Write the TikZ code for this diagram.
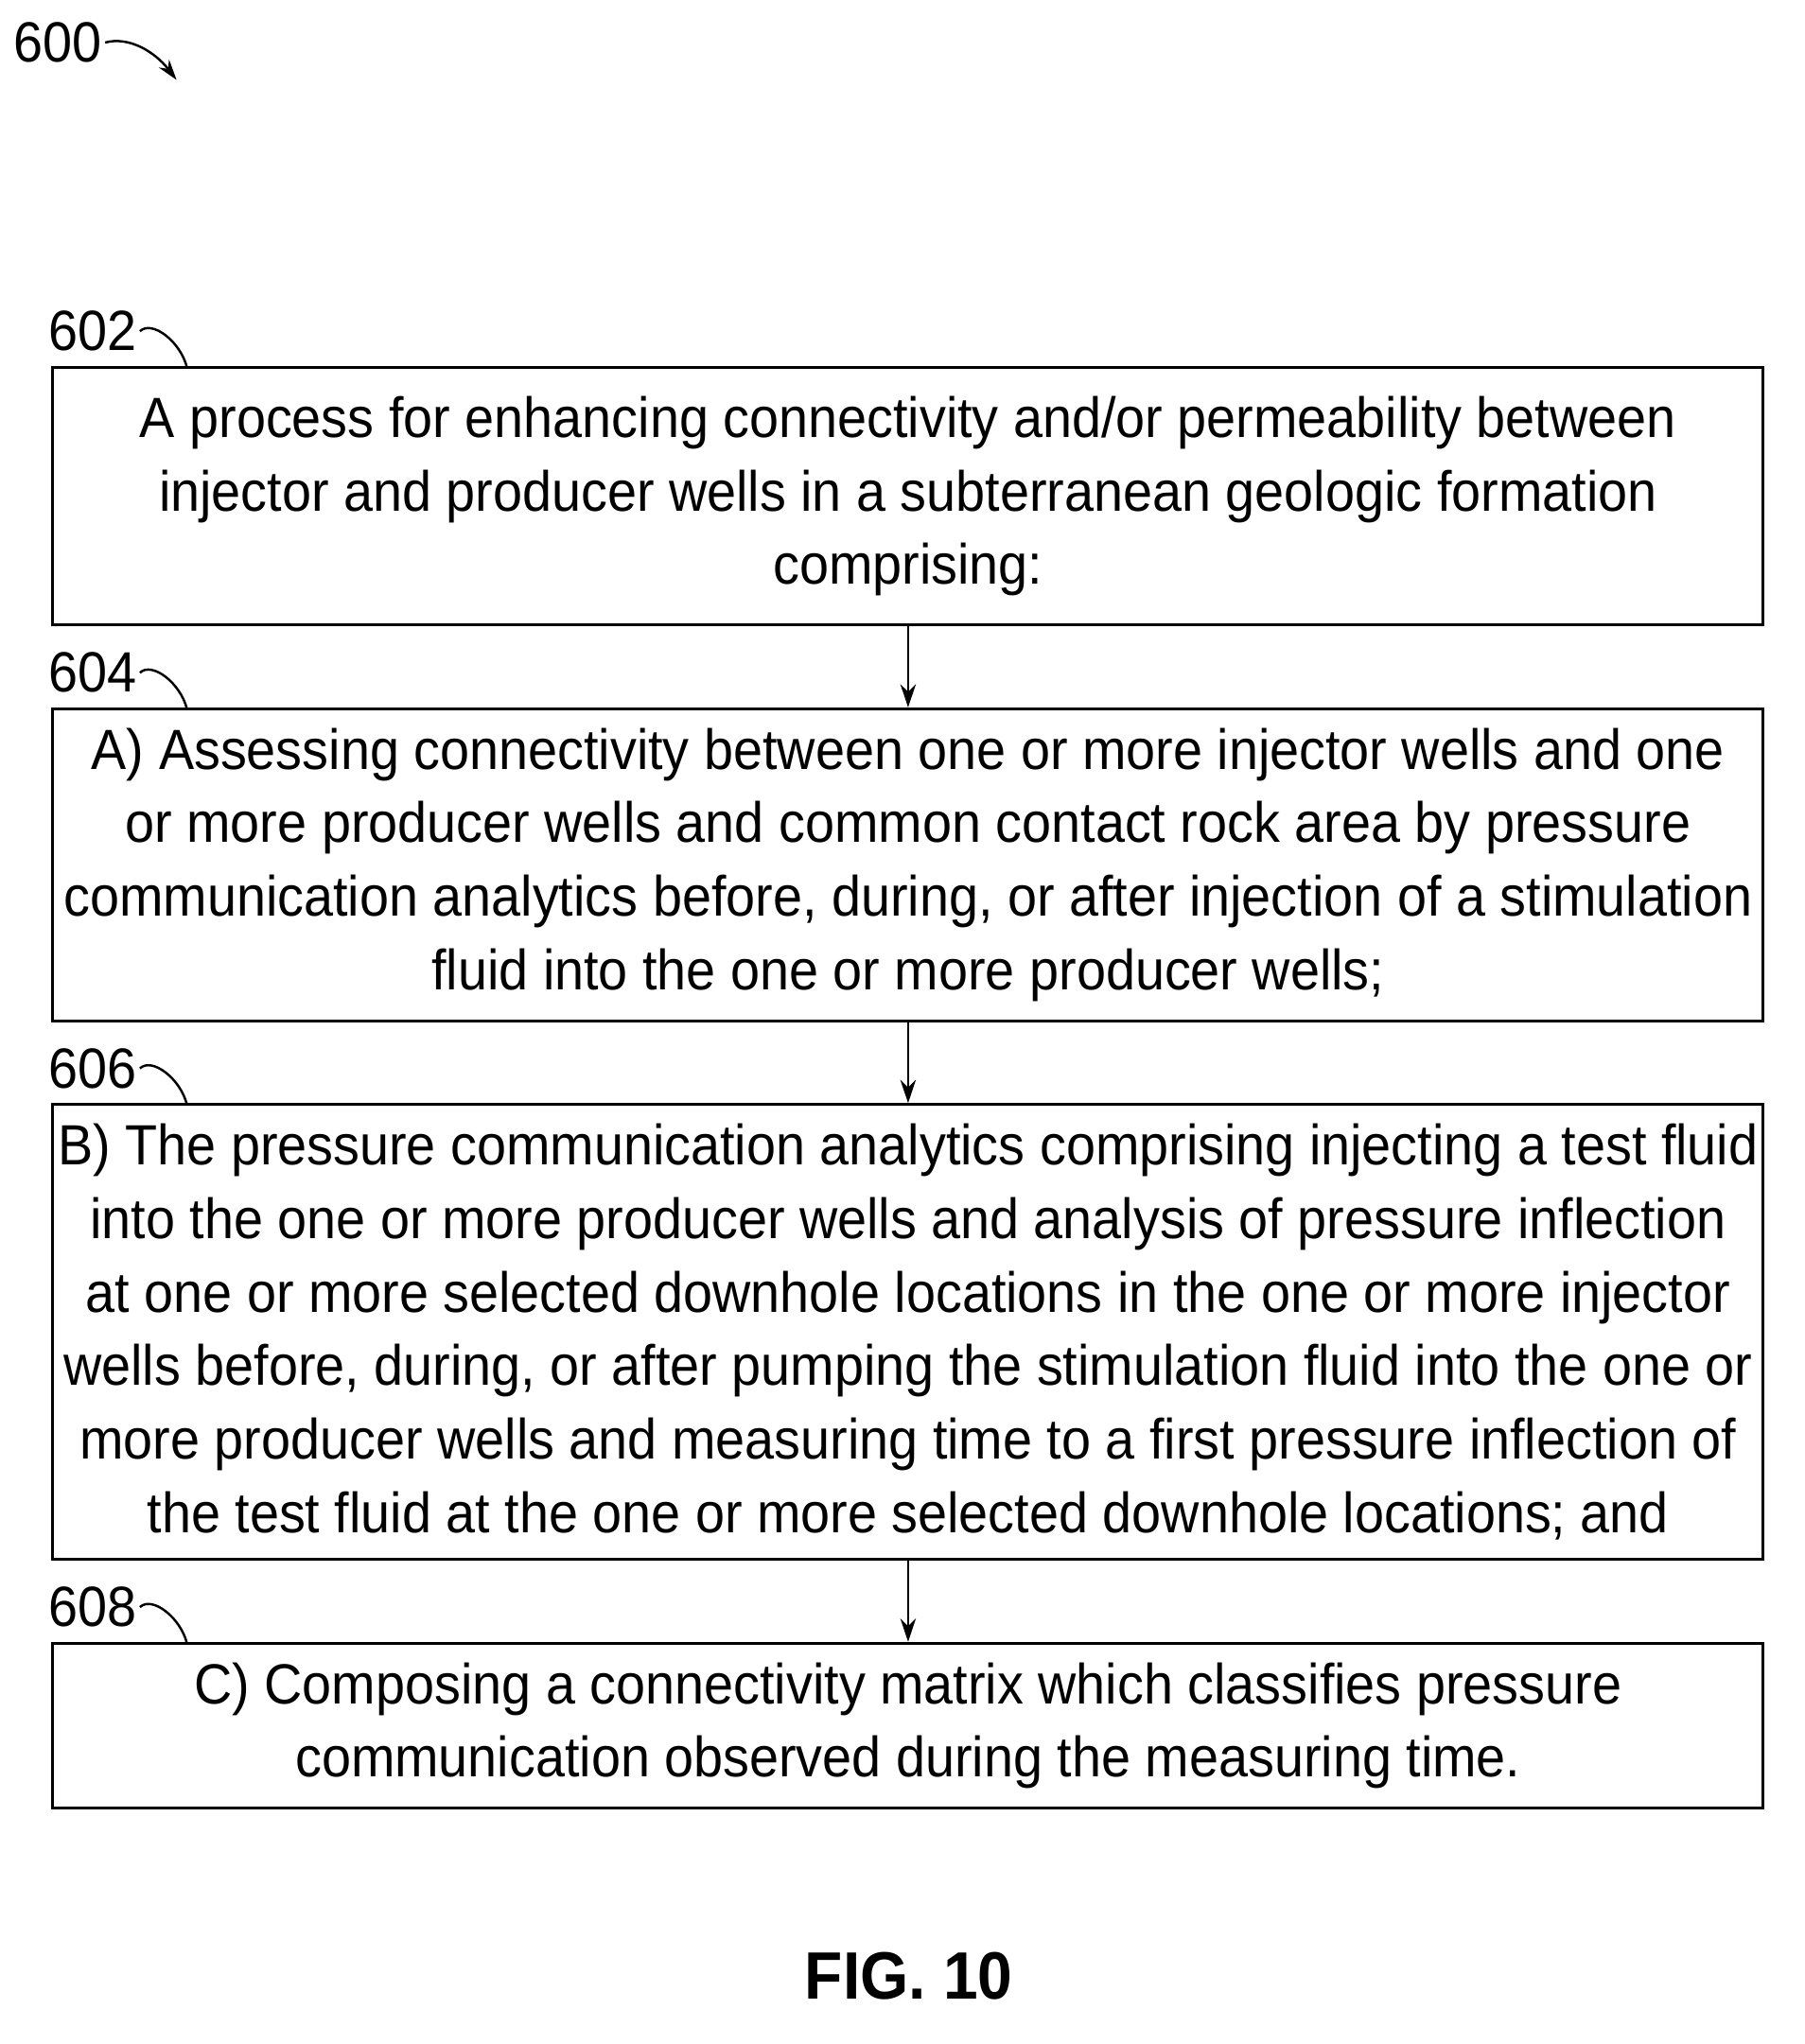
\documentclass[tikz,border=0pt]{standalone}
\usepackage{fontspec}
\setmainfont[FakeStretch=0.93]{Liberation Sans}
\usetikzlibrary{arrows.meta}
\begin{document}
\begin{tikzpicture}[x=0.5pt,y=-0.5pt,
  box/.style={draw,line width=1.1pt,minimum width=663.5pt,align=center,font=\fontsize{22}{28.5}\selectfont,inner sep=0pt},
  ref/.style={font=\fontsize{22}{26}\selectfont,inner sep=1pt},
  conn/.style={line width=1pt,-{Stealth[length=9pt,width=6pt]}},
  tie/.style={line width=0.9pt}]
\useasboundingbox (0,0) rectangle (1400,1586);
\node[box,minimum height=100pt] (b1) at (704.5,385) {A process for enhancing connectivity and/or permeability between\\injector and producer wells in a subterranean geologic formation\\comprising:};
\node[box,minimum height=121pt] (b2) at (704.5,671) {A) Assessing connectivity between one or more injector wells and one\\or more producer wells and common contact rock area by pressure\\communication analytics before, during, or after injection of a stimulation\\fluid into the one or more producer wells;};
\node[box,minimum height=176.5pt] (b3) at (704.5,1033.5) {B) The pressure communication analytics comprising injecting a test fluid\\into the one or more producer wells and analysis of pressure inflection\\at one or more selected downhole locations in the one or more injector\\wells before, during, or after pumping the stimulation fluid into the one or\\more producer wells and measuring time to a first pressure inflection of\\the test fluid at the one or more selected downhole locations; and};
\node[box,minimum height=64pt] (b4) at (704.5,1339) {C) Composing a connectivity matrix which classifies pressure\\communication observed during the measuring time.};
\draw[conn] (b1.south) -- (b2.north);
\draw[conn] (b2.south) -- (b3.north);
\draw[conn] (b3.south) -- (b4.north);
\foreach \n/\t/\y in {l1/602/257,l2/604/522,l3/606/829,l4/608/1247}{
  \node[ref] (\n) at (72,\y) {\t};
}
\coordinate (t1) at (145,285); \coordinate (t2) at (145,550);
\coordinate (t3) at (145,857); \coordinate (t4) at (145,1275);
\draw[tie] (l1.east) .. controls (118,248) and (140,265) .. (t1);
\draw[tie] (l2.east) .. controls (118,513) and (140,530) .. (t2);
\draw[tie] (l3.east) .. controls (118,820) and (140,837) .. (t3);
\draw[tie] (l4.east) .. controls (118,1238) and (140,1255) .. (t4);
\node[ref] (l0) at (45,33) {600};
\coordinate (a0) at (137,62);
\draw[tie,-{Stealth[length=8pt,width=5pt]}] (l0.east) .. controls (100,28) and (120,40) .. (a0);
\node[font=\fontsize{26}{30}\selectfont\bfseries] (fig) at (705,1533) {FIG. 10};
\end{tikzpicture}
\end{document}
